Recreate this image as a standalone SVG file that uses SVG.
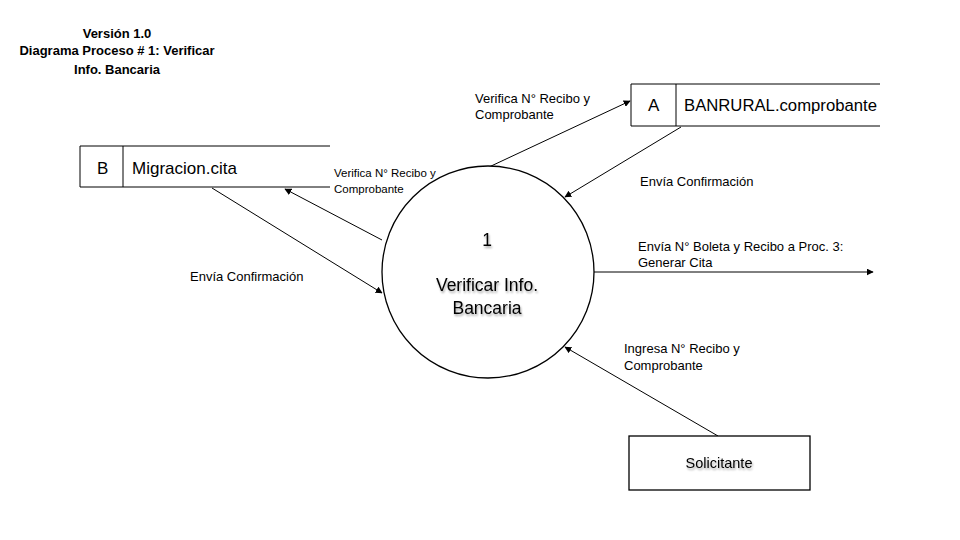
<svg xmlns="http://www.w3.org/2000/svg" width="960" height="540" viewBox="0 0 960 540">
<defs>
<marker id="ah" viewBox="0 0 10 10" refX="9" refY="5" markerWidth="7" markerHeight="7" orient="auto" markerUnits="userSpaceOnUse"><path d="M0,0 L10,5 L0,10 z" fill="#000"/></marker>
<filter id="sh" x="-10%" y="-30%" width="120%" height="160%"><feGaussianBlur in="SourceAlpha" stdDeviation="1.2"/><feOffset dx="1" dy="1.5" result="b"/><feComponentTransfer><feFuncA type="linear" slope="0.35"/></feComponentTransfer><feMerge><feMergeNode/><feMergeNode in="SourceGraphic"/></feMerge></filter>
</defs>
<style>
text{font-family:"Liberation Sans",Arial,sans-serif;fill:#000}
.t{font-size:13px;font-weight:bold;text-anchor:middle}
.l{font-size:13px}
.s{font-size:11.5px}
.b{font-size:17px}
.c{font-size:17.5px;text-anchor:middle}
.ln{stroke:#000;stroke-width:1;fill:none}
.bx{stroke:#000;stroke-width:1.3;fill:#fff}
</style>
<rect width="960" height="540" fill="#fff"/>
<g id="title">
<text class="t" x="117" y="38">Versión 1.0</text>
<text class="t" x="117" y="55">Diagrama Proceso # 1: Verificar</text>
<text class="t" x="117" y="74">Info. Bancaria</text>
</g>
<g id="connectors">
<line class="ln" x1="489" y1="167" x2="630" y2="101" marker-end="url(#ah)"/>
<line class="ln" x1="681" y1="127" x2="565" y2="197" marker-end="url(#ah)"/>
<line class="ln" x1="382" y1="240" x2="285" y2="189" marker-end="url(#ah)"/>
<line class="ln" x1="212" y1="188" x2="382" y2="293" marker-end="url(#ah)"/>
<line class="ln" x1="594" y1="272" x2="873" y2="272" marker-end="url(#ah)"/>
<line class="ln" x1="718" y1="436" x2="565" y2="347" marker-end="url(#ah)"/>
<text class="l" x="475" y="103">Verifica N° Recibo y</text>
<text class="l" x="475" y="119">Comprobante</text>
<text class="l" x="640" y="186">Envía Confirmación</text>
<text class="s" x="334" y="177">Verifica N° Recibo y</text>
<text class="s" x="334" y="193">Comprobante</text>
<text class="l" x="190" y="281">Envía Confirmación</text>
<text class="l" x="638" y="251">Envía N° Boleta y Recibo a Proc. 3:</text>
<text class="l" x="638" y="267">Generar Cita</text>
<text class="l" x="624" y="353">Ingresa N° Recibo y</text>
<text class="l" x="624" y="370">Comprobante</text>
</g>
<g id="process1">
<circle cx="488" cy="272" r="106" fill="#fff" stroke="#000" stroke-width="1.3"/>
<g filter="url(#sh)">
<text class="c" x="487" y="246">1</text>
<text class="c" x="487" y="291">Verificar Info.</text>
<text class="c" x="487" y="314">Bancaria</text>
</g>
</g>
<g id="storeB">
<path class="ln" d="M330,146 H80 V187 H330 M123,146 V187" stroke-width="1.3"/>
<text class="b" x="97" y="174">B</text>
<text class="b" x="132" y="174">Migracion.cita</text>
</g>
<g id="storeA">
<path class="ln" d="M880,84 H631 V126 H880 M676,84 V126" stroke-width="1.3"/>
<text class="b" x="648" y="111">A</text>
<text x="684" y="111" font-size="16.7">BANRURAL.comprobante</text>
</g>
<g id="solicitante">
<rect class="bx" x="629" y="436" width="181" height="54"/>
<text x="719" y="468" text-anchor="middle" font-size="14.5" filter="url(#sh)">Solicitante</text>
</g>
</svg>
